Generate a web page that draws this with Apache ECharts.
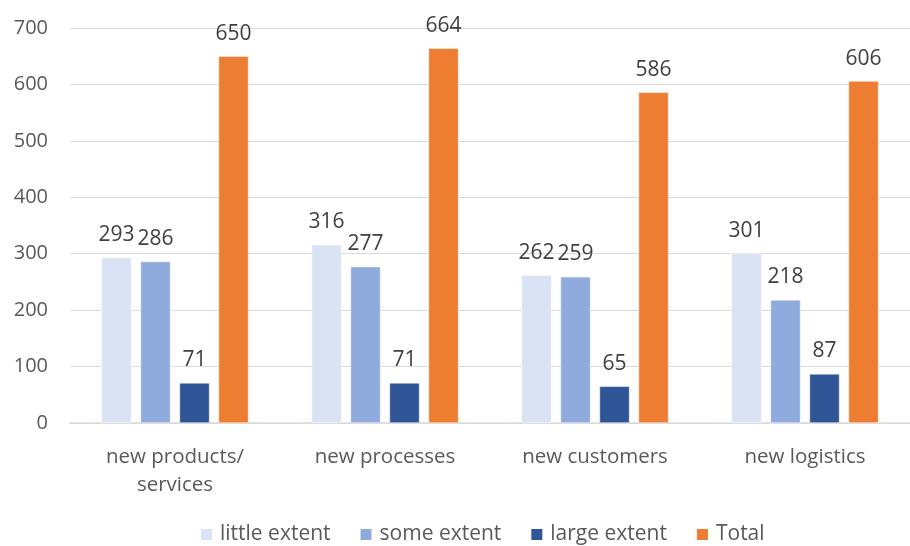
<!DOCTYPE html>
<html><head><meta charset="utf-8">
<script src="https://cdn.jsdelivr.net/npm/echarts@6/dist/echarts.min.js"></script>
<style>html,body{margin:0;padding:0;background:#fff}#c{width:910px;height:546px}</style>
</head><body><div id="c"></div>
<script>
const categories = ['new products/\nservices', 'new processes', 'new customers', 'new logistics'];
const littleExtent = [293, 316, 262, 301];
const someExtent = [286, 277, 259, 218];
const largeExtent = [71, 71, 65, 87];
const total = [650, 664, 586, 606];
const yTicks = [0, 100, 200, 300, 400, 500, 600, 700];

const FONT = 'Open Sans';
const TXT = '#595959';
function mk(name, data, color) {
  return {
    name, type: 'bar', data, barGap: '30%', barCategoryGap: '30%',
    itemStyle: { color, borderColor: '#fff', borderWidth: 0.5 },
    label: { show: true, position: 'top', distance: 12, color: '#404040', fontSize: 21, fontFamily: FONT }
  };
}
const chart = echarts.init(document.getElementById('c'));
chart.setOption({
  animation: false,
  textStyle: { fontFamily: FONT },
  grid: { left: 70, right: 0, top: 28, bottom: 123, containLabel: false },
  legend: {
    left: 194, bottom: -4, itemWidth: 13, itemHeight: 13, itemGap: 28, icon: 'rect',
    textStyle: { color: TXT, fontSize: 21, fontFamily: FONT, padding: [0, 0, 0, 2] }
  },
  xAxis: {
    type: 'category', data: categories,
    axisLine: { lineStyle: { color: '#d9d9d9', width: 1.5 } },
    axisTick: { show: false },
    axisLabel: { color: TXT, fontSize: 20.5, fontFamily: FONT, lineHeight: 28, margin: 20 }
  },
  yAxis: {
    type: 'value', min: yTicks[0], max: yTicks[yTicks.length - 1], interval: 100,
    axisLine: { show: false }, axisTick: { show: false },
    axisLabel: { color: TXT, fontSize: 20, fontFamily: FONT, margin: 22 },
    splitLine: { lineStyle: { color: '#d9d9d9', width: 1 } }
  },
  series: [
    mk('little extent', littleExtent, '#dae3f3'),
    mk('some extent', someExtent, '#8faadc'),
    mk('large extent', largeExtent, '#2f5597'),
    mk('Total', total, '#ed7d31')
  ]
});
</script></body></html>
